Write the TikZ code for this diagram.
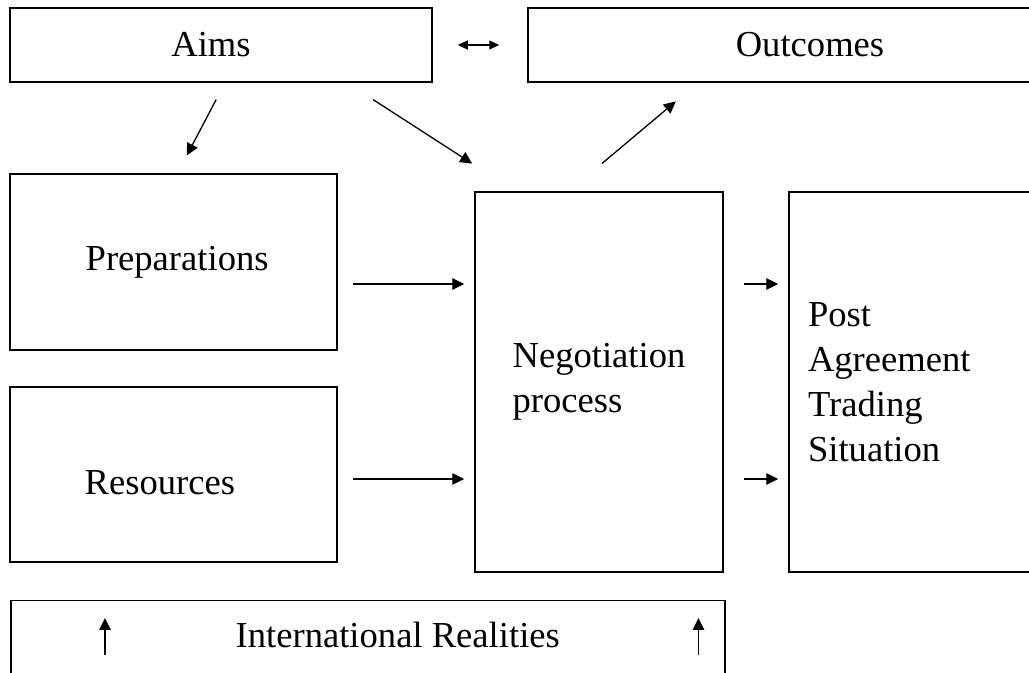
\documentclass[tikz,border=0pt]{standalone}
\usepackage{fontspec}
\setmainfont{Liberation Serif}
\usetikzlibrary{arrows.meta,positioning}

\begin{document}
\begin{tikzpicture}
[x=0.5pt, y=-0.5pt,
box/.style={draw, line width=0.75pt, inner sep=0pt, font=\fontsize{18.3pt}{22.5pt}\selectfont},
lbl/.style={inner sep=0pt, font=\fontsize{18.3pt}{22.5pt}\selectfont},
arr/.style={line width=0.65pt, -{Triangle[length=6pt, width=5.8pt]}},
dbl/.style={line width=0.65pt, {Triangle[length=5pt, width=4.5pt]}-{Triangle[length=5pt, width=4.5pt]}}]

\useasboundingbox (0,0) rectangle (1029,673);
\fill[white] (0,0) rectangle (1029,673);
\clip (0,0) rectangle (1029,673);

% top row
\node[box, minimum width=211pt, minimum height=37pt] (aims) at (221,45) {};
\node[lbl] (aimstxt) at ([xshift=-5pt]aims.center) {Aims};
\node[box, minimum width=282pt, minimum height=37pt] (outc) at (810,45) {Outcomes};

% left column
\node[box, minimum width=163.5pt, minimum height=88pt] (prep) at (173.5,262) {};
\node[lbl, right=38pt of prep.west] (preptxt) {Preparations};
\node[box, minimum width=163.5pt, minimum height=87.5pt] (res) at (173.5,474.5) {};
\node[lbl, anchor=west] (restxt) at ([xshift=37.5pt, yshift=-4.25pt]res.west) {Resources};

% middle and right
\node[box, align=left, minimum width=124pt, minimum height=190pt] (nego) at (599,382) {Negotiation\\process};
\node[box, align=left, text width=150pt, inner xsep=9.5pt, minimum height=190pt] (post) at (958,382)
  {Post\\Agreement\\Trading\\Situation};

% bottom strip
\node[box, anchor=north west, minimum width=357pt, minimum height=60pt] (ir) at (10,600) {};
\node[lbl] (irtxt) at ([xshift=15pt, yshift=-17.5pt]ir.north) {International Realities};

\draw[dbl, shorten <=12.5pt, shorten >=14pt] (aims.east) -- (outc.west);
\draw[arr, shorten <=9.5pt, shorten >=10pt] ([xshift=2pt]aims.south) -- ([xshift=2pt]prep.north);
\draw[arr, shorten <=15.5pt, shorten >=25.5pt] ([xshift=63pt]aims.south) -- ([xshift=-42pt]nego.north);
\draw[arr, shorten <=21.5pt, shorten >=14.5pt] ([xshift=-15pt]nego.north) -- ([xshift=-56pt]outc.south);

\draw[arr, shorten <=7.5pt, shorten >=5pt] ([yshift=-11pt]prep.east) -- ([yshift=49pt]nego.west);
\draw[arr, shorten <=7.5pt, shorten >=5pt] ([yshift=-2.25pt]res.east) -- ([yshift=-48.5pt]nego.west);
\draw[arr, shorten <=10pt, shorten >=5pt] ([yshift=49pt]nego.east) -- ([yshift=49pt]post.west);
\draw[arr, shorten <=10pt, shorten >=5pt] ([yshift=-48.5pt]nego.east) -- ([yshift=-48.5pt]post.west);

\draw[arr] ([xshift=47.5pt, yshift=-27.5pt]ir.north west) -- ([xshift=47.5pt, yshift=-9pt]ir.north west);
\draw[arr] ([xshift=-13.5pt, yshift=-27.5pt]ir.north east) -- ([xshift=-13.5pt, yshift=-9pt]ir.north east);
\end{tikzpicture}
\end{document}
